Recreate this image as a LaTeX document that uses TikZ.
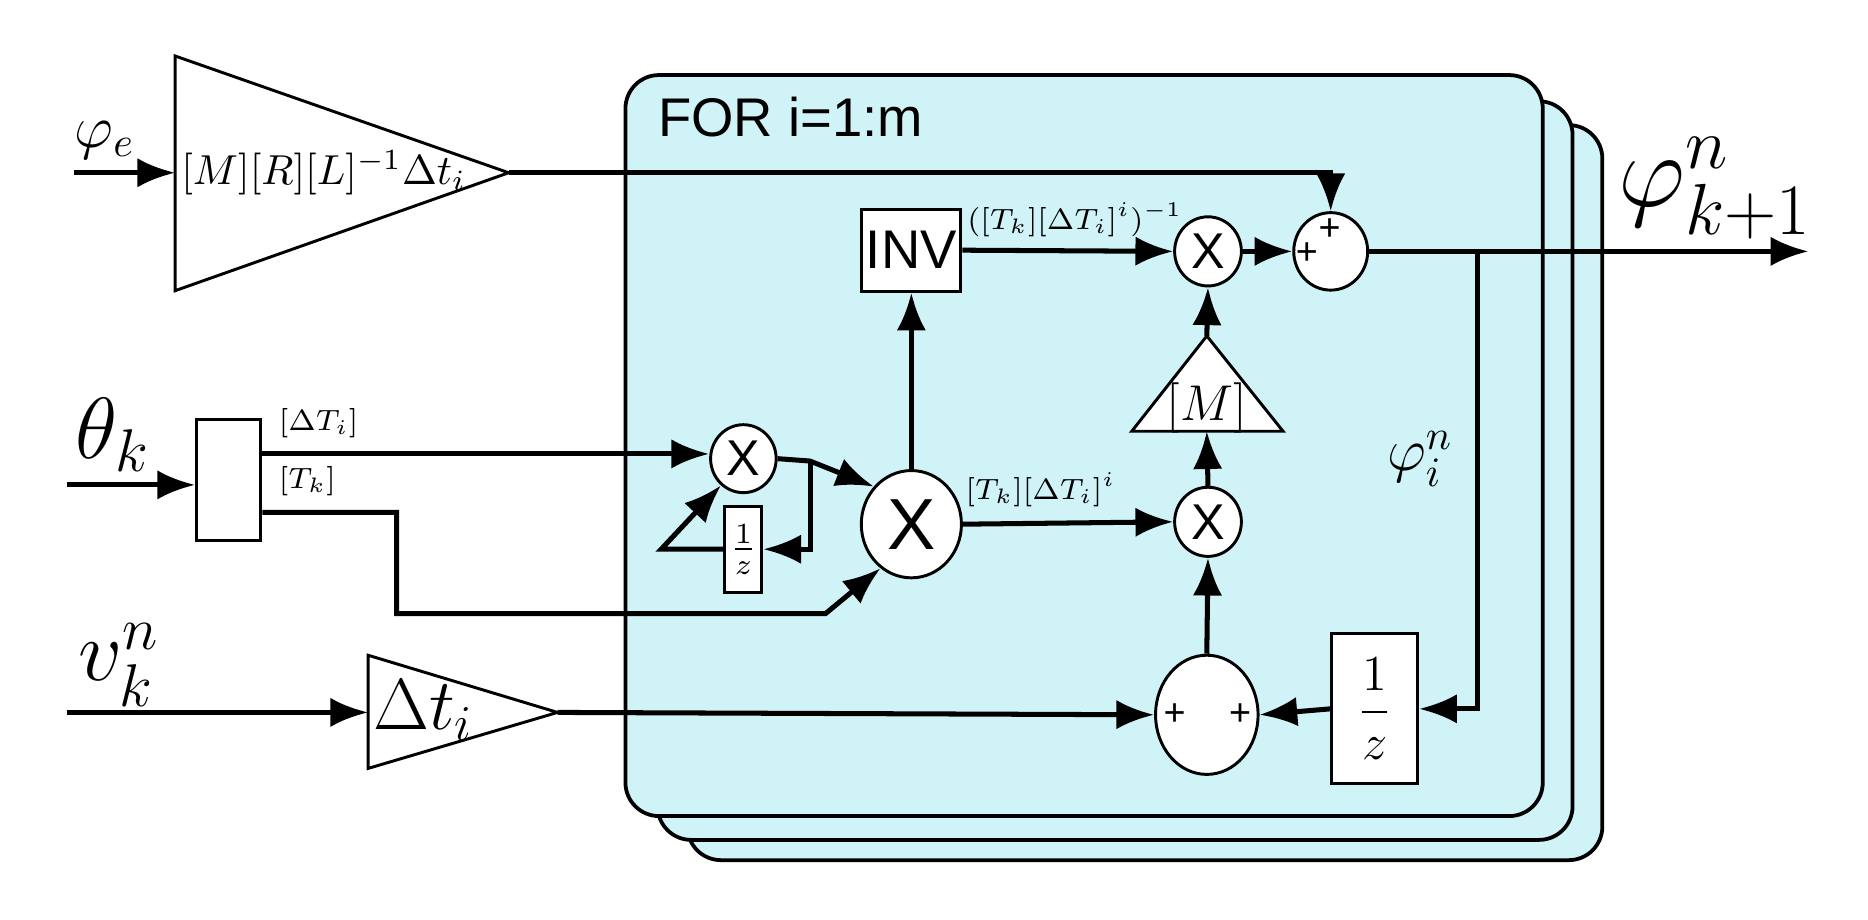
\documentclass[tikz,border=0pt]{standalone}
\usepackage{amsmath,amssymb}
\usepackage{fontspec}
\setsansfont{Liberation Sans}
\usetikzlibrary{arrows.meta,shapes.geometric,positioning}
\definecolor{loopcyan}{HTML}{CFF3F7}

\begin{document}
\begin{tikzpicture}[x=0.01cm,y=-0.01cm,
		sig/.style={line width=1.2pt,-{Latex[length=9pt,width=7pt]}},
		prod/.style={draw,fill=white,ellipse,line width=0.7pt,inner sep=0pt,font=\sffamily\large},
		blk/.style={draw,fill=white,line width=0.7pt,inner sep=0pt},
		pm/.style={font=\sffamily\small,inner sep=0pt},
		stack/.style={draw,fill=loopcyan,rounded corners=8pt,line width=0.9pt}]
		\useasboundingbox (0,0) rectangle (1568,772);
		% stacked loop frames
		\draw[stack] (577,105) rectangle (1345,722);
		\draw[stack] (552,85) rectangle (1320,705);
		\draw[stack] (525,63) rectangle (1295,685);
		\node[anchor=west,font=\sffamily\fontsize{13}{15}\selectfont] (for) at (540,98) {FOR i=1:m};
		% gains
		\draw[fill=white,line width=0.7pt] (147,47) -- (427,145) -- (147,244) -- cycle;
		\coordinate (gL) at (147,145); \coordinate (gR) at (427,145);
		\node[anchor=west,inner sep=1pt] (gtxt) at (148,145) {$[M][R][L]^{-1}\Delta t_i$};
		\draw[fill=white,line width=0.7pt] (309,550) -- (468,598) -- (309,645) -- cycle;
		\coordinate (dL) at (309,598); \coordinate (dR) at (468,598);
		\node[anchor=west,inner sep=1pt,font=\fontsize{18}{20}\selectfont] (dtxt) at (309,596) {$\Delta t_i$};
		\draw[fill=white,line width=0.7pt] (950,362) -- (1013,282) -- (1077,362) -- cycle;
		\coordinate (mT) at (1013,282); \coordinate (mB) at (1013,362);
		\node[font=\large] (mtxt) at (1013,342) {$[M]$};
		% blocks
		\node[blk,minimum height=1.02cm,minimum width=0.54cm] (demux) at (192,403) {};
		\node[blk,minimum width=0.83cm,minimum height=0.69cm,font=\sffamily\fontsize{13}{15}\selectfont] (inv) at (765,210) {INV};
		\node[blk,minimum width=0.31cm,minimum height=0.72cm] (zs) at (624,461) {$\frac{1}{z}$};
		\node[blk,minimum width=0.72cm,minimum height=1.26cm,font=\large] (zb) at (1154,595) {$\dfrac{1}{z}$};
		\node[prod,minimum width=0.55cm,minimum height=0.57cm] (xs) at (624,385) {X};
		\node[prod,minimum width=0.84cm,minimum height=0.9cm,font=\sffamily\LARGE] (xb) at (765,440) {X};
		\node[prod,minimum width=0.56cm,minimum height=0.58cm] (x2) at (1014,211) {X};
		\node[prod,minimum width=0.56cm,minimum height=0.58cm] (x3) at (1014,438) {X};
		\node[prod,minimum width=0.62cm,minimum height=0.65cm] (s1) at (1117,211) {};
		\node[prod,minimum width=0.86cm,minimum height=1.0cm] (s2) at (1013,600) {};
		\node[pm] at (1116,193) {+};
		\node[pm] at (1097,213) {+};
		\node[pm] at (986,600) {+};
		\node[pm] at (1041,600) {+};
		% inputs / outputs
		\coordinate (inE) at (62,145); \coordinate (inT) at (56,407); \coordinate (inV) at (56,598);
		\coordinate (out) at (1518,211); \coordinate (br) at (1240,211);
		\node[font=\Large] (lE) at (88,118) {$\varphi_e$};
		\node[font=\fontsize{22}{24}\selectfont] (lT) at (95,365) {$\theta_k$};
		\node[font=\fontsize{22}{24}\selectfont] (lV) at (100,558) {$v_k^n$};
		\node[font=\fontsize{24}{26}\selectfont] (lO) at (1440,158) {$\varphi_{k+1}^n$};
		\node[font=\Large] (lI) at (1192,385) {$\varphi_i^n$};
		\draw[sig] (inE) -- (gL);
		\draw[sig] (inT) -- (demux.west |- inT);
		\draw[sig] (inV) -- (dL);
		\draw[sig] (gR) -| (s1.north);
		\draw[sig] (s1.east) -- (out);
		\draw[sig] (br) |- (zb.east);
		\draw[sig] (zb.west) -- (s2.east);
		\draw[sig] (dR) -- (s2.west);
		\draw[sig] (s2.north) -- (x3.south);
		\draw[sig] (x3.north) -- (mB);
		\draw[sig] (mT) -- (x2.south);
		\draw[sig] (inv.east) -- (x2.west);
		\node[anchor=south west,font=\scriptsize,inner sep=1pt] (linv) at ([yshift=2pt]inv.east) {$([T_k][\Delta T_i]^i)^{-1}$};
		\draw[sig] (x2.east) -- (s1.west);
		\draw[sig] (xb.north) -- (inv.south);
		\draw[sig] (xb.east) -- node[above,font=\scriptsize,pos=0.37] {$[T_k][\Delta T_i]^i$} (x3.west);
		\draw[sig] (demux.east |- 0,381) node[above right,font=\scriptsize] {$[\Delta T_i]$} -- (xs.west |- 0,381);
		\draw[sig] (demux.east |- 0,430) node[above right,font=\scriptsize] {$[T_k]$} -- (333,430) -- (333,515) -- (693,515) -- (xb.-125);
		\draw[sig] (xs.east) -- (680,387) -- (xb.135);
		\draw[sig] (680,387) -- (680,461) -- (zs.east);
		\draw[sig] (zs.west) -- (555,461) -- (xs.-130);
	\end{tikzpicture}
\end{document}
